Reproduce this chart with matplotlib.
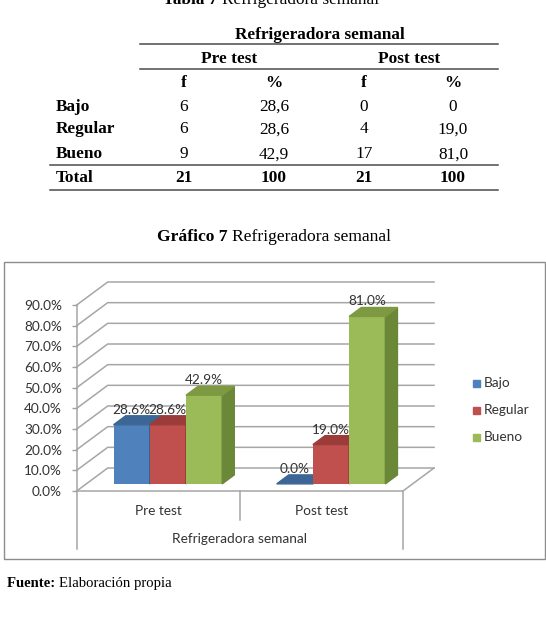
import matplotlib
matplotlib.use("Agg")
import matplotlib.pyplot as plt
from matplotlib.patches import Polygon, Rectangle

# --- data ---
niveles = ["Bajo", "Regular", "Bueno"]
pre_f = ["6", "6", "9"]
pre_pct = ["28,6", "28,6", "42,9"]
post_f = ["0", "4", "17"]
post_pct = ["0", "19,0", "81,0"]
totales = ["21", "100", "21", "100"]

grupos = ["Pre test", "Post test"]
bajo = [28.6, 0.0]
regular = [28.6, 19.0]
bueno = [42.9, 81.0]
yticks = [0, 10, 20, 30, 40, 50, 60, 70, 80, 90]

# colours: front, top, side
series = [
    ("Bajo", bajo, "#4f81bd", "#3c6696", "#375d8a"),
    ("Regular", regular, "#c0504d", "#9c3c3a", "#8e3735"),
    ("Bueno", bueno, "#9bbb59", "#7d9a42", "#6b8738"),
]

W, H = 546, 617
fig = plt.figure(figsize=(W / 100, H / 100), dpi=100)
fig.patch.set_facecolor("white")

# page axes in pixel units (y down) for table, captions, box, legend
page = fig.add_axes([0, 0, 1, 1])
page.set_xlim(0, W)
page.set_ylim(H, 0)
page.axis("off")

serif = "Liberation Serif"
sans = "Lato"
tsize = 12.4


def mixed(xc, y, parts, size):
    # parts: list of (text, weight); centred on xc, baseline y
    r = fig.canvas.get_renderer()
    arts = []
    for txt, wt in parts:
        t = page.text(0, y, txt, family=serif, fontsize=size, weight=wt,
                      va="baseline", ha="left")
        arts.append(t)
    widths = [a.get_window_extent(r).width for a in arts]
    x = xc - sum(widths) / 2
    for a, w in zip(arts, widths):
        a.set_x(x)
        x += w


def mixed_left(xl, y, parts, size):
    r = fig.canvas.get_renderer()
    x = xl
    for txt, wt in parts:
        t = page.text(x, y, txt, family=serif, fontsize=size, weight=wt,
                      va="baseline", ha="left")
        x += t.get_window_extent(r).width


# ---- table ----
mixed_left(163, 4, [("Tabla 7 ", "bold"), ("Refrigeradora semanal", "normal")], tsize)
page.text(319.7, 38.7, "Refrigeradora semanal", family=serif, fontsize=tsize,
          weight="bold", ha="center", va="baseline")
page.text(229, 63, "Pre test", family=serif, fontsize=tsize, weight="bold",
          ha="center", va="baseline")
page.text(409, 63, "Post test", family=serif, fontsize=tsize, weight="bold",
          ha="center", va="baseline")
cols = [184, 274, 364, 453]
for cx, h in zip(cols, ["f", "%", "f", "%"]):
    page.text(cx, 87.4, h, family=serif, fontsize=tsize, weight="bold",
              ha="center", va="baseline")
row_y = [110.7, 133.4, 158.4]
for k, nivel in enumerate(niveles):
    page.text(55.7, row_y[k], nivel, family=serif, fontsize=tsize, weight="bold",
              ha="left", va="baseline")
    for cx, col in zip(cols, [pre_f, pre_pct, post_f, post_pct]):
        page.text(cx, row_y[k], col[k], family=serif, fontsize=tsize,
                  ha="center", va="baseline")
page.text(55.7, 182.5, "Total", family=serif, fontsize=tsize, weight="bold",
          ha="left", va="baseline")
for cx, v in zip(cols, totales):
    page.text(cx, 182.5, v, family=serif, fontsize=tsize, weight="bold",
              ha="center", va="baseline")
lc = "#4a4a4a"
page.plot([140, 498], [44.3, 44.3], color=lc, lw=1.1)
page.plot([140, 498], [69.3, 69.3], color=lc, lw=1.1)
page.plot([50, 498], [165, 165], color=lc, lw=1.1)
page.plot([50, 498], [189.5, 189.5], color=lc, lw=1.1)

# ---- chart caption and frame ----
mixed(273.8, 241, [("Gráfico 7 ", "bold"), ("Refrigeradora semanal", "normal")], 12.6)
page.add_patch(Rectangle((4, 262), 541, 297, fill=False, ec="#8c8c8c", lw=1))
mixed_left(7, 587, [("Fuente: ", "bold"), ("Elaboración propia", "normal")], 10.6)

# legend
for k, (name, vals, cf, ct, cs) in enumerate(series):
    yy = 383 + 27 * k
    page.add_patch(Rectangle((473, yy - 3.5), 7, 7, color=cf))
    page.text(484, yy, name, family=sans, fontsize=9.8, color="#333333",
              ha="left", va="center")

# ---- 3D-style bar chart ----
x0px, x1px, y0px, y90px = 76.7, 403, 491, 305
ax = fig.add_axes([x0px / W, 1 - y0px / H, (x1px - x0px) / W, (y0px - y90px) / H])
ax.set_xlim(0, 2)
ax.set_ylim(0, 90)
ax.patch.set_alpha(0)
for s in ax.spines.values():
    s.set_visible(False)
ax.set_xticks([])
ax.set_yticks(yticks)
ax.set_yticklabels([f"{v:.1f}%" for v in yticks], family=sans, fontsize=9.8,
                   color="#333333")
ax.tick_params(axis="y", length=3.5, width=1, color="#a0a0a0", pad=7)

sx = (x1px - x0px) / 2
sy = (y0px - y90px) / 90
Wx, Wy = 31 / sx, 23 / sy          # wall depth in data units
z1, z2 = 0.31, 0.70                # bar depth range
bw = 0.222
gc = "#a6a6a6"

for v in yticks:
    ax.plot([0, Wx, 2 + Wx], [v, v + Wy, v + Wy], color=gc, lw=1.1,
            clip_on=False, zorder=1)
ax.plot([0, 2, 2 + Wx], [0, 0, Wy], color=gc, lw=1.1, clip_on=False, zorder=1)
ax.plot([0, 0], [90, -28], color=gc, lw=1.1, clip_on=False, zorder=1)
ax.plot([1, 1], [0, -14], color=gc, lw=1.1, clip_on=False, zorder=1)
ax.plot([2, 2], [0, -28], color=gc, lw=1.1, clip_on=False, zorder=1)

for g, grp in enumerate(grupos):
    ax.text(g + 0.5, -9.7, grp, family=sans, fontsize=9.8, color="#333333",
            ha="center", va="center")
ax.text(1, -23.2, "Refrigeradora semanal", family=sans, fontsize=9.8,
        color="#333333", ha="center", va="center")

ddx, ddy = (z2 - z1) * Wx, (z2 - z1) * Wy
n = 0
for g in range(len(grupos)):
    for i, (name, vals, cf, ct, cs) in enumerate(series):
        v = vals[g]
        xl = g + 0.5 - 1.5 * bw + i * bw + z1 * Wx
        yb = z1 * Wy
        zo = 3 + n * 0.1
        n += 1
        if v > 0:
            ax.bar(xl, v, width=bw, bottom=yb, align="edge", color=cf,
                   clip_on=False, zorder=zo)
            ax.add_patch(Polygon([(xl + bw, yb), (xl + bw + ddx, yb + ddy),
                                  (xl + bw + ddx, yb + v + ddy), (xl + bw, yb + v)],
                                 closed=True, color=cs, clip_on=False, zorder=zo))
        ax.add_patch(Polygon([(xl, yb + v), (xl + bw, yb + v),
                              (xl + bw + ddx, yb + v + ddy), (xl + ddx, yb + v + ddy)],
                             closed=True, color=ct, clip_on=False, zorder=zo + 0.01))
        ax.annotate(f"{v:.1f}%", (xl + bw / 2, yb + v), xytext=(0, 10.8),
                    textcoords="offset points", ha="center", va="center",
                    family=sans, fontsize=9.8, color="#333333", zorder=10,
                    annotation_clip=False)

fig.savefig("out.png", dpi=100)
